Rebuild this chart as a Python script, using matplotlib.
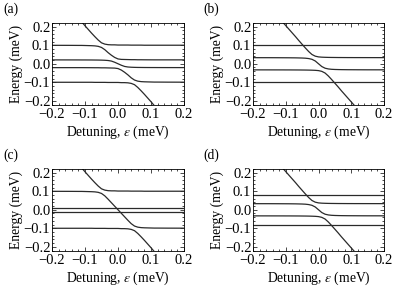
import matplotlib
matplotlib.use("Agg")
import matplotlib.pyplot as plt
from matplotlib.ticker import MultipleLocator, FuncFormatter

plt.rcParams['font.family'] = ['Liberation Serif', 'DejaVu Serif']
plt.rcParams['mathtext.fontset'] = 'stix'

# detuning grid (meV) the curves were read at
eps = [-0.2, -0.15, -0.12, -0.11, -0.1, -0.09, -0.08, -0.07, -0.06, -0.05,
       -0.04, -0.03, -0.02, -0.01, 0.0, 0.01, 0.02, 0.03, 0.04, 0.05,
       0.06, 0.07, 0.08, 0.09, 0.1, 0.11, 0.12, 0.15, 0.2]

# outer branches, anticrossing with the +/-0.1 meV levels (panels a, c)
upper_01 = [0.41, 0.308, 0.246, 0.226, 0.205, 0.185, 0.165, 0.146, 0.128, 0.113,
            0.106, 0.103, 0.102, 0.102, 0.101, 0.101, 0.101, 0.101, 0.1005, 0.1005,
            0.1005, 0.1005, 0.1, 0.1, 0.1, 0.1, 0.1, 0.1, 0.1]
lower_01 = [-0.1, -0.1, -0.1, -0.1, -0.1, -0.1, -0.1, -0.1005, -0.1005, -0.1005,
            -0.1005, -0.101, -0.101, -0.101, -0.101, -0.102, -0.102, -0.103, -0.106, -0.113,
            -0.128, -0.146, -0.165, -0.185, -0.205, -0.226, -0.246, -0.308, -0.41]

# panel (a) inner branches
a_2 = [0.0995, 0.0993, 0.099, 0.099, 0.0985, 0.098, 0.0975, 0.0965, 0.094, 0.088,
       0.076, 0.060, 0.046, 0.034, 0.026, 0.0235, 0.023, 0.0225, 0.022, 0.022,
       0.0215, 0.0215, 0.0213, 0.0212, 0.0211, 0.021, 0.021, 0.021, 0.021]
a_3 = [0.0208, 0.0207, 0.0206, 0.0205, 0.0205, 0.0204, 0.0203, 0.0201, 0.0199, 0.0195,
       0.0188, 0.0175, 0.0145, 0.008, 0.0, -0.008, -0.0145, -0.0175, -0.0188, -0.0195,
       -0.0199, -0.0201, -0.0203, -0.0204, -0.0205, -0.0205, -0.0206, -0.0207, -0.0208]
a_4 = [-0.021, -0.021, -0.021, -0.021, -0.0211, -0.0212, -0.0213, -0.0215, -0.0215, -0.022,
       -0.022, -0.0225, -0.023, -0.0235, -0.026, -0.034, -0.046, -0.060, -0.076, -0.088,
       -0.094, -0.0965, -0.0975, -0.098, -0.0985, -0.099, -0.099, -0.0993, -0.0995]

# panel (c) middle branch
c_mid = [0.0995, 0.0993, 0.099, 0.099, 0.0985, 0.098, 0.0975, 0.0965, 0.094, 0.088,
         0.075, 0.057, 0.038, 0.019, 0.0, -0.019, -0.038, -0.057, -0.075, -0.088,
         -0.094, -0.0965, -0.0975, -0.098, -0.0985, -0.099, -0.099, -0.0993, -0.0995]

# anticrossing with the +/-0.033 meV levels (panels b, d)
inner_top = [0.41, 0.308, 0.247, 0.226, 0.206, 0.186, 0.166, 0.146, 0.125, 0.105,
             0.085, 0.066, 0.050, 0.041, 0.037, 0.0355, 0.0348, 0.0343, 0.034, 0.0338,
             0.0336, 0.0335, 0.0334, 0.0333, 0.0333, 0.0332, 0.0332, 0.0331, 0.033]
inner_mid = [0.0328, 0.0327, 0.0325, 0.0324, 0.0323, 0.0322, 0.032, 0.0318, 0.0314, 0.0309,
             0.030, 0.028, 0.024, 0.015, 0.0, -0.015, -0.024, -0.028, -0.030, -0.0309,
             -0.0314, -0.0318, -0.032, -0.0322, -0.0323, -0.0324, -0.0325, -0.0327, -0.0328]
inner_bot = [-0.033, -0.0331, -0.0332, -0.0332, -0.0333, -0.0333, -0.0334, -0.0335, -0.0336, -0.0338,
             -0.034, -0.0343, -0.0348, -0.0355, -0.037, -0.041, -0.050, -0.066, -0.085, -0.105,
             -0.125, -0.146, -0.166, -0.186, -0.206, -0.226, -0.247, -0.308, -0.41]

# uncoupled levels (straight lines)
flat_b = [0.1, -0.1]
flat_c = [0.01, -0.01]
flat_d = [0.08, -0.08]

panels = {
    "(a)": ([upper_01, a_2, a_3, a_4, lower_01], []),
    "(b)": ([inner_top, inner_mid, inner_bot], flat_b),
    "(c)": ([upper_01, c_mid, lower_01], flat_c),
    "(d)": ([inner_top, inner_mid, inner_bot], flat_d),
}

W, H = 399, 293
# axes boxes in pixels: left, top, right, bottom
boxes = {"(a)": (52, 23, 184, 104.5), "(b)": (253, 23, 384, 104.5),
         "(c)": (52, 169, 184, 250.5), "(d)": (253, 169, 384, 250.5)}
label_pos = {"(a)": (3, 3), "(b)": (203, 3), "(c)": (3, 149), "(d)": (203, 149)}

line_col = "#2a2a2a"
fs = 9.8
tick_fs = 10.5


def fmt(v, _):
    if abs(v) < 1e-9:
        v = 0.0
    return f"{v:.1f}".replace("-", "\u2212")


fig = plt.figure(figsize=(W / 100, H / 100), dpi=100)

for name, (curves, flats) in panels.items():
    l, t, r, b = boxes[name]
    ax = fig.add_axes([l / W, 1 - b / H, (r - l) / W, (b - t) / H])
    for y in curves:
        ax.plot(eps, y, color=line_col, lw=0.9)
    for y0 in flats:
        ax.axhline(y0, color=line_col, lw=0.9)

    ax.set_xlim(-0.2, 0.2)
    ax.set_ylim(-0.22, 0.22)
    for axis in (ax.xaxis, ax.yaxis):
        axis.set_major_locator(MultipleLocator(0.1))
        axis.set_minor_locator(MultipleLocator(0.02))
        axis.set_major_formatter(FuncFormatter(fmt))
    ax.tick_params(which="both", direction="in", top=True, right=True,
                   width=0.5, labelsize=tick_fs)
    ax.tick_params(axis="x", pad=2.5)
    ax.tick_params(axis="y", pad=1.2)
    ax.tick_params(which="major", length=3)
    ax.tick_params(which="minor", length=1.6)
    for s in ax.spines.values():
        s.set_linewidth(0.6)

    ax.set_xlabel("Detuning, $\\epsilon$ (meV)", fontsize=fs, labelpad=2)
    ax.set_ylabel("Energy (meV)", fontsize=fs, labelpad=0.5)

    lx, ly = label_pos[name]
    fig.text(lx / W, 1 - ly / H, name, ha="left", va="top", fontsize=fs)

fig.savefig("out.png", dpi=100)
